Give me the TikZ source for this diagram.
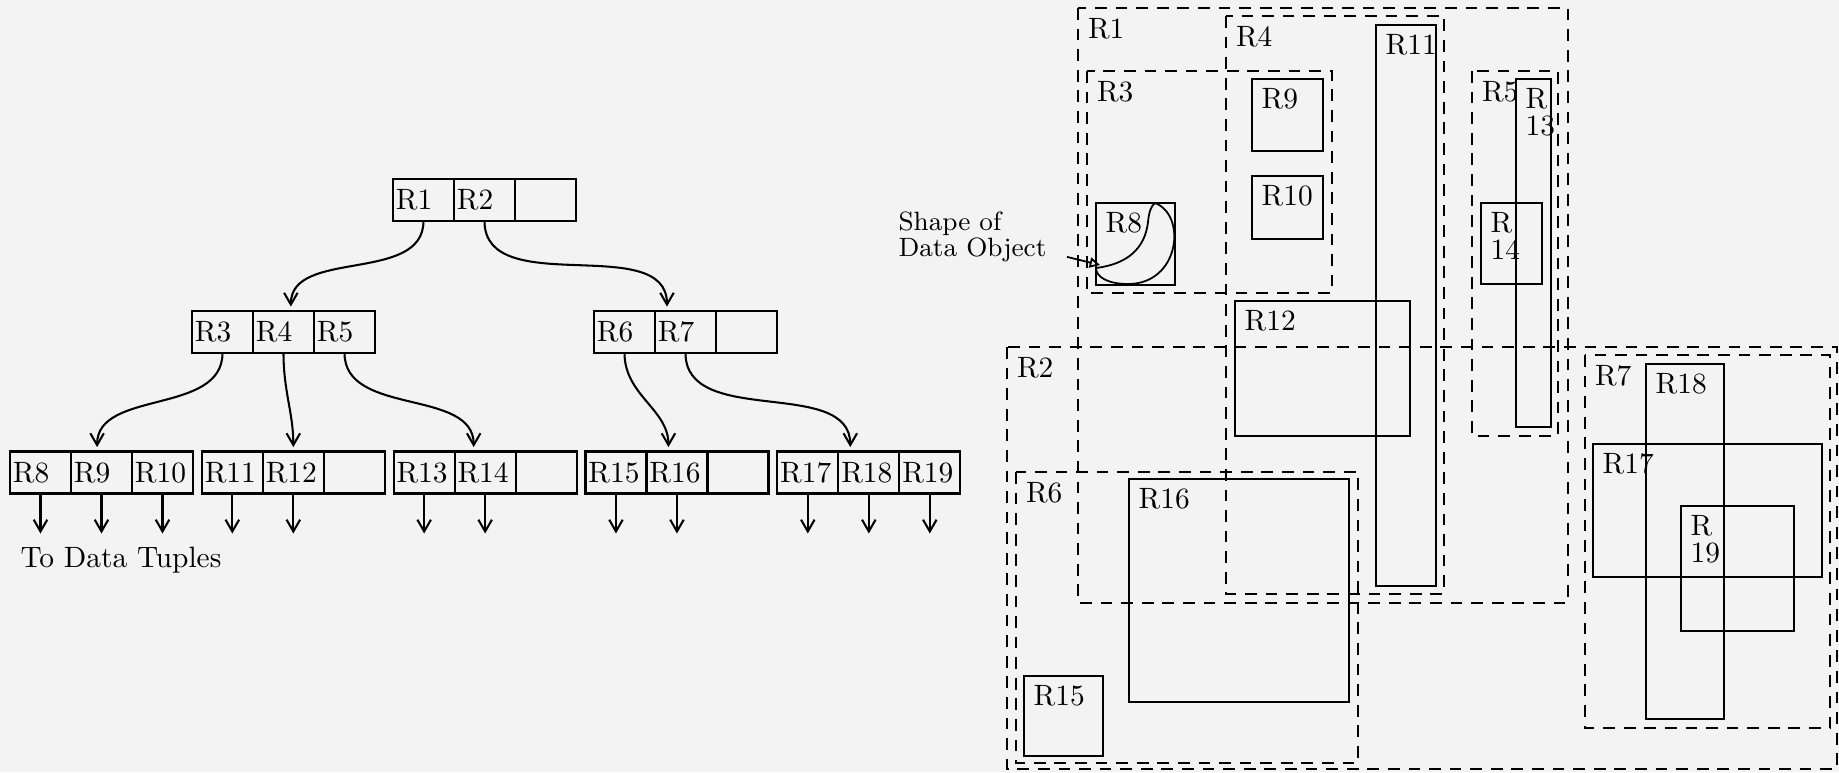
\documentclass[tikz,border=0pt]{standalone}
\usepackage{tikz}
\usetikzlibrary{arrows.meta, positioning}
\definecolor{paper}{RGB}{243,243,243}

\begin{document}
\begin{tikzpicture}[
  x=0.34pt, y=-0.34pt,
  cell/.style={rectangle, draw, line width=0.7pt, minimum height=14.28pt,
               text width=18.74pt, inner xsep=1pt, inner ysep=0pt,
               outer sep=0pt, align=left},
  ptr/.style={-{Straight Barb[length=4pt,width=4.6pt]}, line width=0.7pt},
  mbr/.style={dash pattern=on 4pt off 3pt, line width=0.8pt},
  obj/.style={line width=0.6pt},
  lbl/.style={anchor=north west, inner sep=3pt, align=left}
]
\fill[paper] (0,0) rectangle (1839,772);

% R-tree nodes, one cell per entry
\node[cell] (c1) at (423.5,200) {R1};
\node[cell, right=0pt of c1] (c2) {R2};
\node[cell, right=0pt of c2] (e1) {};

\node[cell] (c3) at (222.5,332) {R3};
\node[cell, right=0pt of c3] (c4) {R4};
\node[cell, right=0pt of c4] (c5) {R5};
\node[cell] (c6) at (624.5,332) {R6};
\node[cell, right=0pt of c6] (c7) {R7};
\node[cell, right=0pt of c7] (e2) {};

\node[cell] (c8) at (40.5,472.5) {R8};
\node[cell, right=0pt of c8] (c9) {R9};
\node[cell, right=0pt of c9] (c10) {R10};
\node[cell, right=3pt of c10] (c11) {R11};
\node[cell, right=0pt of c11] (c12) {R12};
\node[cell, right=0pt of c12] (e3) {};
\node[cell, right=3pt of e3] (c13) {R13};
\node[cell, right=0pt of c13] (c14) {R14};
\node[cell, right=0pt of c14] (e4) {};
\node[cell, right=3pt of e4] (c15) {R15};
\node[cell, right=0pt of c15] (c16) {R16};
\node[cell, right=0pt of c16] (e5) {};
\node[cell, right=3pt of e5] (c17) {R17};
\node[cell, right=0pt of c17] (c18) {R18};
\node[cell, right=0pt of c18] (c19) {R19};

\draw[ptr, shorten >=1.5pt] (c1.south) to[out=-90,in=90] ([xshift=2.5pt]c4.north);
\draw[ptr, shorten >=1.5pt] (c2.south) to[out=-90,in=90] ([xshift=-6.3pt]c7.north);
\draw[ptr, shorten >=1.5pt] (c3.south) to[out=-90,in=90] ([xshift=-1.5pt]c9.north);
\draw[ptr, shorten >=1.5pt] (c4.south) to[out=-90,in=90] (c12.north);
\draw[ptr, shorten >=1.5pt] (c5.south) to[out=-90,in=90] ([xshift=-3.9pt]c14.north);
\draw[ptr, shorten >=1.5pt] (c6.south) to[out=-90,in=90] ([xshift=-2.9pt]c16.north);
\draw[ptr, shorten >=1.5pt] (c7.south) to[out=-90,in=90] ([xshift=-6.3pt]c18.north);

\foreach \c in {8,...,19} {
  \coordinate (t\c) at ([yshift=-13.6pt]c\c.south);
  \draw[ptr] (c\c.south) -- (t\c);
}
\node[anchor=base west, inner sep=0pt] (tuples) at (20,567) {To Data Tuples};

% bounding rectangles
\draw[mbr] (1078,8) node[lbl] (m1) {R1} rectangle (1568,603);
\draw[mbr] (1226,16) node[lbl] (m4) {R4} rectangle (1444,594);
\draw[mbr] (1087,71) node[lbl] (m3) {R3} rectangle (1332,293);
\draw[mbr] (1472,71) node[lbl] (m5) {R5} rectangle (1558,436);
\draw[mbr] (1007,347) node[lbl] (m2) {R2} rectangle (1837,769);
\draw[mbr] (1016,472) node[lbl] (m6) {R6} rectangle (1358,763);
\draw[mbr] (1585,355) node[lbl] (m7) {R7} rectangle (1830,728);

\draw[obj] (1096,203) node[lbl] (m8) {R8} rectangle (1175,285);
\draw[obj] (1252,79) node[lbl] (m9) {R9} rectangle (1323,151);
\draw[obj] (1252,176) node[lbl] (m10) {R10} rectangle (1323,239);
\draw[obj] (1376,25) node[lbl] (m11) {R11} rectangle (1436,586);
\draw[obj] (1235,301) node[lbl] (m12) {R12} rectangle (1410,436);
\draw[obj] (1516,79) node[lbl] (m13) {R\\[-3pt]13} rectangle (1551,427);
\draw[obj] (1481,203) node[lbl] (m14) {R\\[-3pt]14} rectangle (1542,284);
\draw[obj] (1024,676) node[lbl] (m15) {R15} rectangle (1103,756);
\draw[obj] (1129,479) node[lbl] (m16) {R16} rectangle (1349,702);
\draw[obj] (1593,444) node[lbl] (m17) {R17} rectangle (1822,577);
\draw[obj] (1646,364) node[lbl] (m18) {R18} rectangle (1724,719);
\draw[obj] (1681,506) node[lbl] (m19) {R\\[-3pt]19} rectangle (1794,631);

% data object inside R8
\draw[obj] (1155,203) .. controls (1187,215) and (1180,284) .. (1128,284)
  .. controls (1108,284) and (1096,277) .. (1096,268)
  .. controls (1128,264) and (1145,248) .. (1148,222)
  .. controls (1149,212) and (1151,206) .. (1155,203) -- cycle;
\node[anchor=north west, inner sep=0pt, align=left, font=\small] (objtxt)
  at (898,211) {Shape of\\[-2pt]Data Object};
\coordinate (objtip) at (1100,265);
\draw[-{Triangle[open,length=3.5pt,width=3.5pt]}, line width=0.6pt]
  ([xshift=6.8pt,yshift=2pt]objtxt.south east) -- (objtip);
\end{tikzpicture}
\end{document}
